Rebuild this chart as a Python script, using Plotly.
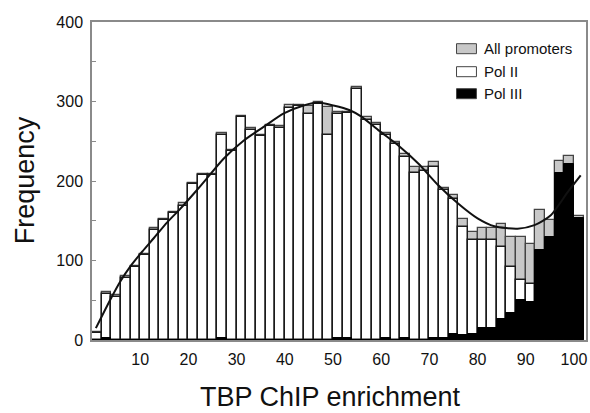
import plotly.graph_objects as go

# Bin centers (bins of width 2, from 0 to 102)
bin_centers = [1 + 2 * i for i in range(51)]

all_promoters = [10, 60, 56, 80, 93, 108, 141, 152, 161, 172,
                 197, 209, 209, 261, 239, 282, 267, 258, 271, 269,
                 295, 296, 294, 299, 293, 287, 287, 318, 281, 273,
                 260, 249, 234, 218, 218, 224, 191, 183, 152, 136,
                 141, 141, 146, 129, 129, 121, 163, 151, 225, 231,
                 156]
pol2 = [9, 58, 54, 78, 92, 107, 139, 151, 160, 169,
        196, 208, 207, 258, 238, 280, 264, 257, 269, 267,
        292, 294, 284, 297, 258, 284, 285, 316, 277, 270,
        258, 247, 230, 210, 213, 218, 189, 177, 142, 126,
        126, 126, 117, 92, 76, 70, 0, 0, 0, 0,
        0]
pol3 = [0, 3, 0, 0, 0, 0, 0, 0, 0, 0,
        0, 0, 0, 2, 0, 0, 0, 0, 0, 0,
        0, 0, 0, 0, 0, 3, 2, 0, 0, 0,
        2, 0, 2, 0, 0, 3, 3, 8, 6, 8,
        15, 15, 26, 34, 50, 48, 113, 130, 210, 222,
        153]

# Fitted curve
fit_x = [0.8, 3.9, 5.9, 8.0, 10.4, 12.8, 15.6, 18.3, 21.1, 23.8, 27.3, 31.5,
         35.6, 39.8, 43.9, 47.0, 50.1, 53.5, 55.9, 59.4, 63.5, 67.7, 71.8,
         75.9, 80.0, 83.5, 88.3, 91.8, 95.2, 98.7, 101.4]
fit_y = [15, 52, 74, 93, 111, 128, 148, 165, 184, 203, 228, 251,
         268, 285, 295, 298.6, 295, 289, 281, 264, 245, 222, 195,
         172, 153, 143, 140, 144.5, 157, 186, 207]

x_ticks = [10, 20, 30, 40, 50, 60, 70, 80, 90, 100]
y_ticks = [0, 100, 200, 300, 400]

legend_names = ["All promoters", "Pol II", "Pol III"]
legend_fills = ["#c8c8c8", "#ffffff", "#000000"]

FONT = "Liberation Sans, Arial, sans-serif"

fig = go.Figure()
fig.add_trace(go.Bar(x=bin_centers, y=all_promoters, width=2, name=legend_names[0],
                     marker=dict(color=legend_fills[0], line=dict(color="#444", width=1.3)),
                     showlegend=False))
fig.add_trace(go.Bar(x=bin_centers, y=pol2, width=2, name=legend_names[1],
                     marker=dict(color=legend_fills[1], line=dict(color="#1a1a1a", width=1.5)),
                     showlegend=False))
fig.add_trace(go.Bar(x=bin_centers, y=pol3, width=2, name=legend_names[2],
                     marker=dict(color=legend_fills[2], line=dict(color="#000", width=1)),
                     showlegend=False))
fig.add_trace(go.Scatter(x=fit_x, y=fit_y, mode="lines",
                         line=dict(color="#111", width=2, shape="spline", smoothing=0.7),
                         showlegend=False, hoverinfo="skip"))

L, R, T, B = 92, 2, 22, 73
W, H = 590, 413
pw, ph = W - L - R, H - T - B

def px2paper(xp, yp):
    return (xp - L) / pw, (H - B - yp) / ph

shapes = []
annotations = []
rows_y = [48.7, 71.7, 93.7]
for name, fill, ry in zip(legend_names, legend_fills, rows_y):
    x0, y0 = px2paper(458, ry + 5)
    x1, y1 = px2paper(478, ry - 5)
    shapes.append(dict(type="rect", xref="paper", yref="paper", x0=x0, x1=x1, y0=y0, y1=y1,
                       fillcolor=fill, line=dict(color="#444", width=1)))
    tx, ty = px2paper(484, ry)
    annotations.append(dict(text=name, xref="paper", yref="paper", x=tx, y=ty,
                            xanchor="left", yanchor="middle", showarrow=False,
                            font=dict(family=FONT, size=15, color="#111")))

ax, ay = px2paper(331, 397)
annotations.append(dict(text="TBP ChIP enrichment", xref="paper", yref="paper", x=ax, y=ay,
                        xanchor="center", yanchor="middle", showarrow=False,
                        font=dict(family=FONT, size=27, color="#111")))
bx, by = px2paper(25, 180)
annotations.append(dict(text="Frequency", xref="paper", yref="paper", x=bx, y=by, textangle=-90,
                        xanchor="center", yanchor="middle", showarrow=False,
                        font=dict(family=FONT, size=27, color="#111")))

fig.update_layout(
    width=W, height=H,
    margin=dict(l=L, r=R, t=T, b=B, pad=0),
    barmode="overlay", bargap=0,
    plot_bgcolor="white", paper_bgcolor="white",
    font=dict(family=FONT, color="#111"),
    shapes=shapes, annotations=annotations,
    xaxis=dict(range=[0, 102.5], tickvals=x_ticks, ticktext=[str(v) for v in x_ticks],
               showgrid=False, zeroline=False, showline=True, linecolor="#8a8a8a", linewidth=1.5,
               mirror=True, ticks="", tickfont=dict(size=16, color="#111"), ticklabelstandoff=4),
    yaxis=dict(range=[0, 400], tickvals=y_ticks, showgrid=False, zeroline=False, showline=True,
               linecolor="#8a8a8a", linewidth=1.5, mirror=True, ticks="inside", ticklen=4,
               tickcolor="#8a8a8a", tickfont=dict(size=16, color="#111"), ticklabelstandoff=4,
               minor=dict(dtick=50, ticks="inside", ticklen=4, tickcolor="#8a8a8a")),
)

fig.write_html("out.html", config={"displayModeBar": False},
               post_script="document.body.style.margin='0px';document.body.style.overflow='hidden';")
